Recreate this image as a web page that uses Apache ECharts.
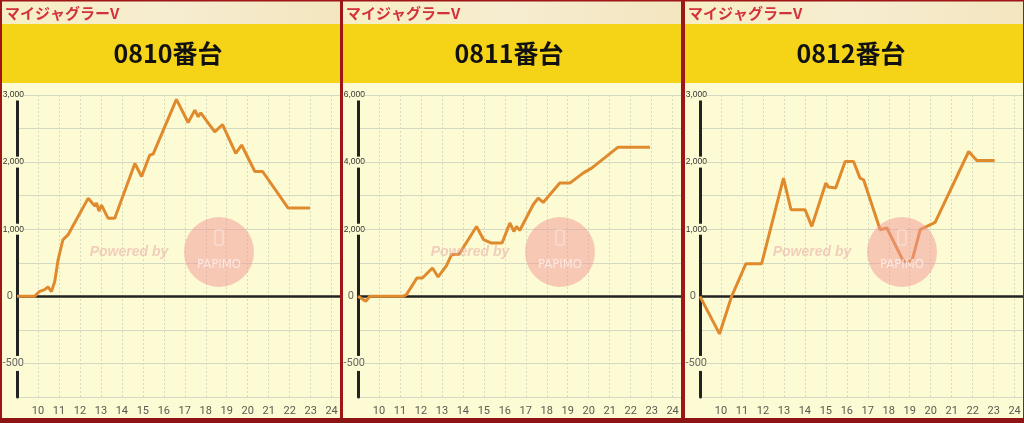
<!DOCTYPE html>
<html>
<head>
<meta charset="utf-8">
<script src="https://cdn.jsdelivr.net/npm/echarts@6/dist/echarts.min.js"></script>
<style>
html,body{margin:0;padding:0;background:#fdfbd3;}
#c{width:1024px;height:423px;}
</style>
</head>
<body>
<div id="c"></div>
<script>
// ---- data ----
const machineName = 'マイジャグラーV';
const panelTitles = ['0810番台', '0811番台', '0812番台'];
const xTickMin = 9;
const xTickMax = 24;

const hours1 = [9, 9.84, 10.08, 10.32, 10.48, 10.64, 10.80, 10.96, 11.19, 11.43, 12.39, 12.71, 12.79, 12.91, 13.03, 13.34, 13.66, 14.62, 14.94, 15.33, 15.49, 16.60, 17.16, 17.48, 17.64, 17.76, 18.43, 18.80, 19.43, 19.71, 20.34, 20.71, 21.93, 22.97];
const values1 = [0, 0, 75, 100, 140, 70, 220, 545, 843, 915, 1460, 1345, 1390, 1270, 1360, 1165, 1165, 1980, 1785, 2105, 2120, 2935, 2590, 2775, 2675, 2735, 2450, 2560, 2130, 2255, 1860, 1860, 1315, 1315];

const hours2 = [9, 9.37, 9.56, 11.15, 11.31, 11.81, 12.07, 12.55, 12.82, 13.22, 13.46, 13.82, 14.65, 14.72, 14.99, 15.36, 15.87, 16.24, 16.43, 16.56, 16.71, 17.35, 17.59, 17.83, 18.62, 19.10, 19.73, 20.14, 21.40, 22.92];
const values2 = [0, -37, 0, 0, 50, 548, 548, 845, 577, 914, 1241, 1256, 2083, 2083, 1688, 1589, 1589, 2185, 1935, 2083, 1964, 2729, 2929, 2798, 3375, 3375, 3673, 3821, 4446, 4446];

const hours3 = [9, 9.93, 10.51, 11.19, 11.94, 12.98, 13.34, 14.01, 14.33, 15.00, 15.13, 15.47, 15.92, 16.32, 16.63, 16.80, 17.59, 17.91, 18.70, 19.10, 19.50, 20.21, 21.81, 22.20, 23.05];
const values3 = [0, -280, 0, 487, 487, 1762, 1290, 1290, 1042, 1688, 1628, 1613, 2009, 2009, 1762, 1737, 993, 1018, 521, 521, 993, 1101, 2158, 2024, 2024];

// y-axis labelled ticks (positive side step per gridline pair, negative side step)
const posStep = [1000, 2000, 1000];
const negStep = [500, 500, 500];
const yTopTick = [3000, 6000, 3000];
const yNegTick = [-500, -500, -500];

// ---- build ----
const BG = '#fdfbd3';
const LINE = '#e08a2e';
const panelW = 341;
const hoursAll = [hours1, hours2, hours3];
const valuesAll = [values1, values2, values3];

function fmt(n) {
  return String(n).replace(/\B(?=(\d{3})+(?!\d))/g, ',');
}

const grids = [], xAxes = [], yAxes = [], series = [], graphics = [];

for (let i = 0; i < 3; i++) {
  const ox = i * panelW + (i === 2 ? 1 : 0);
  const ps = posStep[i], ns = negStep[i];
  // piecewise axis: positive side ps per unit, negative side ns per unit
  const toUnit = v => v >= 0 ? v / ps : v / ns;
  const topU = yTopTick[i] / ps;
  grids.push({left: ox + 17, top: 95, width: 323, height: 302, containLabel: false, outerBoundsMode: 'none'});
  xAxes.push({
    type: 'value', gridIndex: i, min: xTickMin, max: xTickMax + 0.4, interval: 1,
    axisLine: {show: false}, axisTick: {show: false},
    axisLabel: {fontSize: 11, color: '#5a5a50', margin: 9, showMinLabel: false, showMaxLabel: false,
      fontFamily: 'Roboto, sans-serif'},
    splitLine: {show: true, lineStyle: {color: '#d6dbbf', type: [2, 2], width: 1}}
  });
  yAxes.push({
    type: 'value', gridIndex: i, min: -1.5, max: topU, interval: 0.5,
    axisLine: {show: true, lineStyle: {color: '#222', width: 3}},
    axisTick: {show: false},
    axisLabel: {
      margin: -7,
      formatter: function (u) {
        if (Math.abs(u) < 1e-9) return '{z|0}';
        if (Math.abs(u + 1) < 1e-9) return '{n|' + yNegTick[i] + '}';
        if (u > 0 && Math.abs(u - Math.round(u)) < 1e-9) return '{a|' + fmt(Math.round(u) * ps) + '}';
        return '';
      },
      rich: {
        a: {fontSize: 8.5, color: '#333', backgroundColor: BG, padding: [1, 0, 1, 0], fontFamily: 'Liberation Sans'},
        z: {fontSize: 11, color: '#666', padding: [0, 11, 0, 0], fontFamily: 'Roboto'},
        n: {fontSize: 11, color: '#666', backgroundColor: BG, padding: [2, 0, 2, 0], fontFamily: 'Roboto'}
      }
    },
    splitLine: {show: true, lineStyle: {color: '#d3d9c3', width: 1}}
  });
  series.push({
    type: 'line', xAxisIndex: i, yAxisIndex: i,
    data: hoursAll[i].map((h, k) => [h, toUnit(valuesAll[i][k])]),
    showSymbol: false, symbol: 'none',
    lineStyle: {color: LINE, width: 3}, itemStyle: {color: LINE},
    z: 3,
    markLine: {
      silent: true, symbol: 'none', label: {show: false},
      lineStyle: {color: '#222', width: 2.5, type: 'solid'},
      data: [{yAxis: 0}], z: 2
    }
  });

  // backgrounds
  graphics.push({type: 'rect', z: -10, shape: {x: ox, y: 0, width: panelW, height: 24},
    style: {fill: new echarts.graphic.LinearGradient(0, 0, 1, 0, [
      {offset: 0, color: '#f7efc4'}, {offset: 0.5, color: '#f6ecd0'}, {offset: 1, color: '#f3e6bf'}])}});
  graphics.push({type: 'rect', z: -10, shape: {x: ox, y: 24, width: panelW, height: 59}, style: {fill: '#f5d417'}});
  graphics.push({type: 'rect', z: -10, shape: {x: ox, y: 83, width: panelW, height: 340}, style: {fill: BG}});
  graphics.push({type: 'text', z: 50, x: ox + 5, y: 13,
    style: {text: machineName, fill: '#d2333b', fontSize: 15, fontWeight: 'bold',
      fontFamily: 'Noto Sans CJK JP', verticalAlign: 'middle'}});
  graphics.push({type: 'text', z: 50, x: ox + 168, y: 53,
    style: {text: panelTitles[i], fill: '#111', fontSize: 25, fontWeight: 'bold',
      fontFamily: 'Noto Sans CJK JP', align: 'center', verticalAlign: 'middle'}});

  // watermark
  const cx = ox + 219, cy = 252;
  graphics.push({type: 'text', z: 60, x: ox + 129, y: 252,
    style: {text: 'Powered by', fill: 'rgba(232,170,170,0.55)', fontSize: 14, fontWeight: 'bold', fontStyle: 'italic',
      fontFamily: 'Liberation Sans', align: 'center', verticalAlign: 'middle'}});
  graphics.push({type: 'circle', z: 60, shape: {cx: cx, cy: cy, r: 35}, style: {fill: 'rgba(242,150,150,0.5)'}});
  graphics.push({type: 'rect', z: 61, shape: {x: cx - 4, y: cy - 22, width: 8, height: 15, r: 1},
    style: {fill: 'none', stroke: 'rgba(255,240,240,0.75)', lineWidth: 1}});
  graphics.push({type: 'text', z: 61, x: cx, y: cy + 13,
    style: {text: 'PAPIMO', fill: 'rgba(255,240,240,0.8)', fontSize: 13,
      fontFamily: 'DejaVu Sans Condensed', align: 'center', verticalAlign: 'middle'}});

  // panel border
  graphics.push({type: 'rect', z: 100, shape: {x: ox + 1, y: 0.5, width: panelW - 1, height: 419},
    style: {fill: 'none', stroke: '#9e1616', lineWidth: 2}});
}
graphics.push({type: 'rect', z: 101, shape: {x: 0, y: 418, width: 1024, height: 5}, style: {fill: '#8e1414'}});

const chart = echarts.init(document.getElementById('c'), null, {renderer: 'canvas'});
chart.setOption({
  backgroundColor: BG,
  animation: false,
  grid: grids, xAxis: xAxes, yAxis: yAxes, series: series,
  graphic: {elements: graphics}
});
</script>
</body>
</html>
